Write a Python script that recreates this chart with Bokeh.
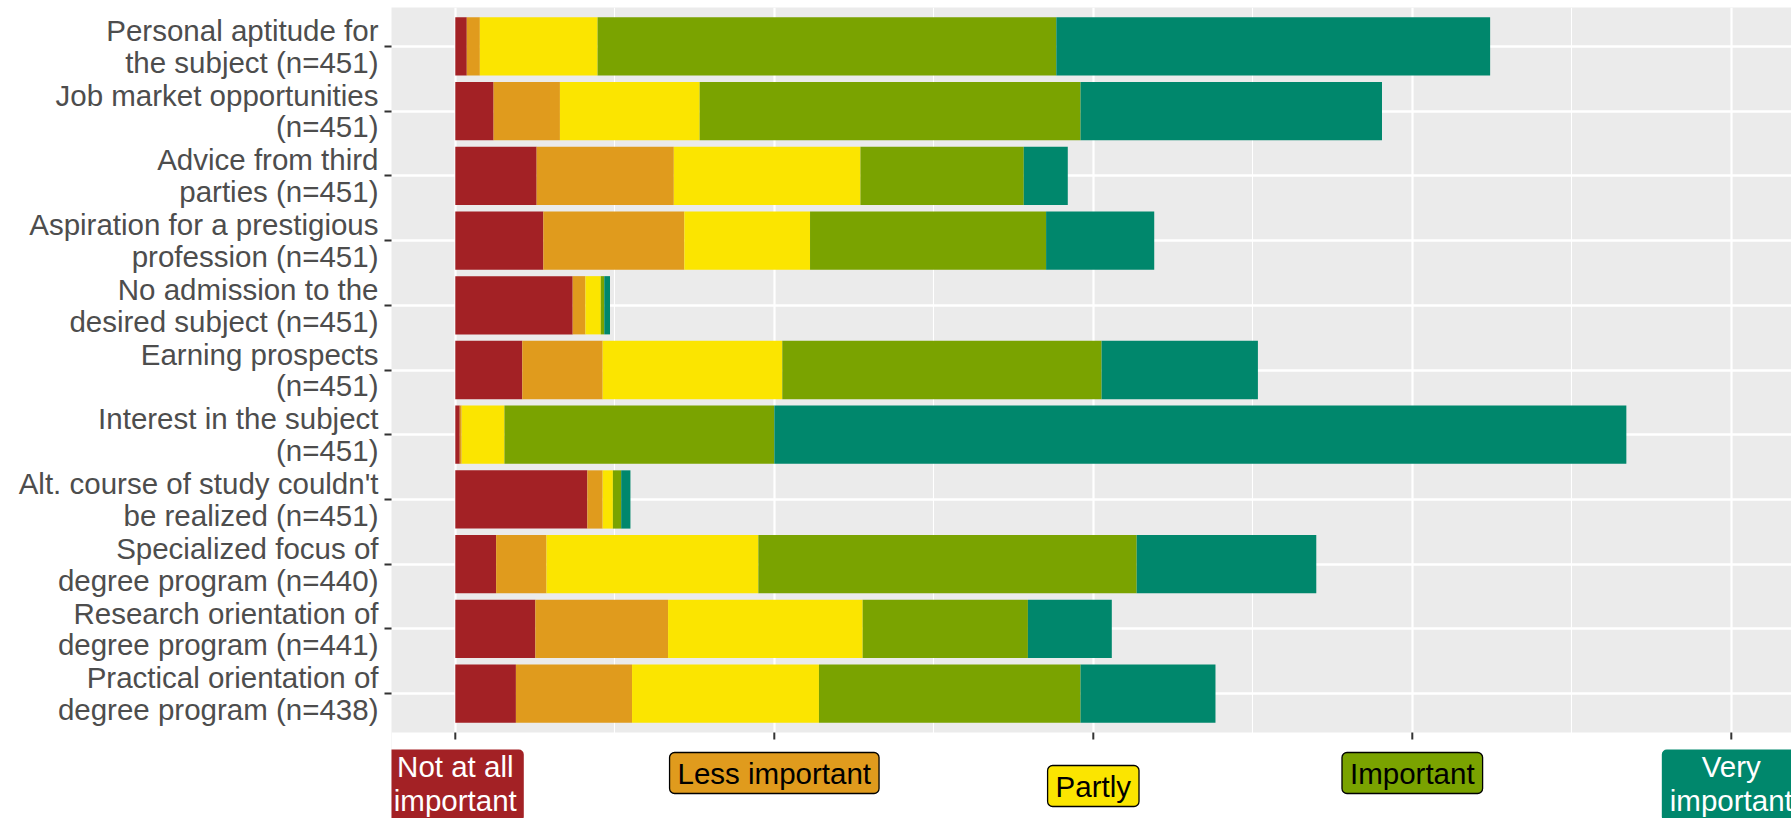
from bokeh.plotting import figure
from bokeh.models import ColumnDataSource, Range1d, FixedTicker, Label
from bokeh.embed import file_html
from bokeh.resources import INLINE

# ---------------- data ----------------
items = [
    "Personal aptitude for\nthe subject (n=451)",
    "Job market opportunities\n(n=451)",
    "Advice from third\nparties (n=451)",
    "Aspiration for a prestigious\nprofession (n=451)",
    "No admission to the\ndesired subject (n=451)",
    "Earning prospects\n(n=451)",
    "Interest in the subject\n(n=451)",
    "Alt. course of study couldn't\nbe realized (n=451)",
    "Specialized focus of\ndegree program (n=440)",
    "Research orientation of\ndegree program (n=441)",
    "Practical orientation of\ndegree program (n=438)",
]

scale_labels = ["Not at all\nimportant", "Less important", "Partly", "Important", "Very\nimportant"]

not_at_all = [0.036, 0.120, 0.255, 0.276, 0.368, 0.210, 0.014, 0.414, 0.128, 0.251, 0.190]
less_important = [0.041, 0.208, 0.430, 0.442, 0.040, 0.252, 0.006, 0.048, 0.158, 0.416, 0.364]
partly = [0.369, 0.438, 0.585, 0.394, 0.048, 0.563, 0.134, 0.032, 0.664, 0.610, 0.586]
important = [1.438, 1.194, 0.512, 0.740, 0.011, 1.001, 0.846, 0.026, 1.186, 0.518, 0.820]
very_important = [1.360, 0.945, 0.138, 0.339, 0.018, 0.490, 2.671, 0.029, 0.563, 0.263, 0.423]

# ---------------- styles / layout ----------------
colors = ["#A32125", "#E09B1D", "#FBE500", "#7AA300", "#00876C"]
label_text_colors = ["white", "black", "black", "black", "white"]
label_border_colors = [None, "black", "black", "black", None]
label_tops = [69, 66, 53, 66, 69]   # screen px above the canvas bottom
label_pads = [
    dict(left=7, right=7, top=0, bottom=4),
    dict(left=8, right=8, top=4, bottom=4),
    dict(left=8, right=8, top=4, bottom=4),
    dict(left=8, right=8, top=4, bottom=4),
    dict(left=8, right=8, top=0, bottom=4),
]
FONT = "Liberation Sans"

W, H = 1791, 818
LEFT, TOP = 391, 7
PANEL_PX = 725          # height of the grey panel in px
X_PX_PER_UNIT = 319.0

n = len(items)
ys = list(range(1, n + 1))
y_top, y_panel_bottom = 0.4, n + 0.6
frame_px = H - TOP
y_end = y_top + (y_panel_bottom - y_top) * frame_px / PANEL_PX
y_px_per_unit = PANEL_PX / (y_panel_bottom - y_top)
x_start = -0.2
x_end = x_start + (W - LEFT) / X_PX_PER_UNIT

stackers = ["not_at_all", "less_important", "partly", "important", "very_important"]
source = ColumnDataSource(dict(
    y=ys,
    not_at_all=not_at_all,
    less_important=less_important,
    partly=partly,
    important=important,
    very_important=very_important,
))

xticks = list(range(len(scale_labels)))
xminor = [t + 0.5 for t in xticks[:-1]]

p = figure(
    width=W, height=H,
    output_backend="svg", toolbar_location=None,
    x_range=Range1d(x_start, x_end),
    y_range=Range1d(y_end, y_top),
    min_border_left=LEFT, min_border_right=0,
    min_border_top=TOP, min_border_bottom=0,
)
p.background_fill_color = "#EBEBEB"
p.border_fill_color = "white"
p.outline_line_color = None
p.xaxis.visible = False

# grids
p.xgrid.ticker = FixedTicker(ticks=xticks, minor_ticks=xminor)
p.xgrid.grid_line_color = "white"
p.xgrid.grid_line_width = 2.2
p.xgrid.minor_grid_line_color = "white"
p.xgrid.minor_grid_line_width = 1.1
p.ygrid.ticker = FixedTicker(ticks=ys)
p.ygrid.grid_line_color = "white"
p.ygrid.grid_line_width = 2.4

# white area below the panel (axis-label strip)
p.quad(left=[x_start], right=[x_end], top=[y_panel_bottom], bottom=[y_end],
       fill_color="white", line_color=None)

# x ticks below the panel
tick_len = 7 / y_px_per_unit
p.segment(x0=xticks, x1=xticks, y0=[y_panel_bottom] * len(xticks),
          y1=[y_panel_bottom + tick_len] * len(xticks),
          line_color="#333333", line_width=2)

# bars
p.hbar_stack(stackers, y="y", height=0.9, fill_color=colors,
             line_color=None, source=source)

# y axis
p.yaxis.ticker = FixedTicker(ticks=ys)
p.yaxis.major_label_overrides = {y: lab for y, lab in zip(ys, items)}
p.yaxis.axis_line_color = None
p.yaxis.major_tick_out = 7
p.yaxis.major_tick_in = 0
p.yaxis.minor_tick_out = 0
p.yaxis.minor_tick_in = 0
p.yaxis.major_tick_line_width = 2
p.yaxis.major_tick_line_color = "#333333"
p.yaxis.major_label_standoff = 6
p.yaxis.major_label_text_font = FONT
p.yaxis.major_label_text_font_size = "29.5px"
p.yaxis.major_label_text_color = "#4D4D4D"
p.yaxis.major_label_text_line_height = 0.96

# coloured category labels below the panel
for i, txt in enumerate(scale_labels):
    lab = Label(
        x=xticks[i], y=label_tops[i], x_units="data", y_units="screen",
        text=txt, anchor="top_center", text_align="center",
        text_font=FONT, text_font_size="29.5px",
        text_color=label_text_colors[i], text_line_height=1.06,
        background_fill_color=colors[i],
        border_line_color=label_border_colors[i], border_line_width=1.3,
        border_radius=5, padding=label_pads[i],
    )
    p.add_layout(lab)

open("out.html", "w").write(file_html(p, INLINE))
